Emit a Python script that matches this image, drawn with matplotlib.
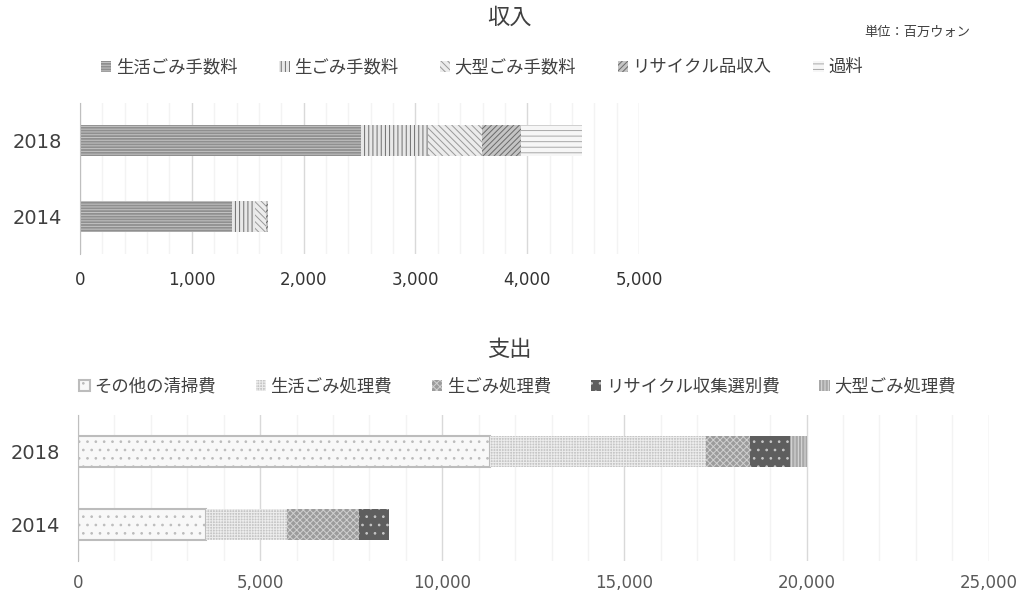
import matplotlib
matplotlib.use("Agg")
import matplotlib.pyplot as plt
from matplotlib.ticker import MultipleLocator, FuncFormatter

# numbers in DejaVu Sans, Japanese glyphs fall through to Noto Sans CJK JP
plt.rcParams['font.family'] = ['DejaVu Sans', 'Noto Sans CJK JP']
plt.rcParams['hatch.linewidth'] = 0.7

years = ['2014', '2018']

# 収入 (百万ウォン)
income_names = ['生活ごみ手数料', '生ごみ手数料', '大型ごみ手数料', 'リサイクル品収入', '過料']
fee_household = [1356, 2514]
fee_food = [207, 594]
fee_bulky = [100, 485]
recycle_income = [21, 355]
fines = [0, 546]

# 支出 (百万ウォン)
expense_names = ['その他の清掃費', '生活ごみ処理費', '生ごみ処理費', 'リサイクル収集選別費', '大型ごみ処理費']
cost_other = [3504, 11300]
cost_household = [2226, 5933]
cost_food = [1973, 1200]
cost_recycle = [826, 1100]
cost_bulky = [0, 480]

income_styles = [
    dict(color='#8f8f8f', edgecolor='#c4c4c4', hatch='------'),
    dict(color='#e8e8e8', edgecolor='#6e6e6e', hatch='||||'),
    dict(color='#ececec', edgecolor='#999999', hatch='\\\\\\\\\\'),
    dict(color='#c4c4c4', edgecolor='#6a6a6a', hatch='//////'),
    dict(color='#f6f6f6', edgecolor='#a8a8a8', hatch='---'),
]
expense_styles = [
    dict(color='#f8f8f8', edgecolor='#bcbcbc', hatch='..'),
    dict(color='#c6c6c6', edgecolor='#ececec', hatch='++++++'),
    dict(color='#9c9c9c', edgecolor='#d0d0d0', hatch='xxxxx'),
    dict(color='#5e5e5e', edgecolor='#c8c8c8', hatch='..'),
    dict(color='#a8a8a8', edgecolor='#dcdcdc', hatch='|||||'),
]

fig = plt.figure(figsize=(10.21, 5.95), dpi=100)
ax1 = fig.add_axes([0.0784, 0.573, 0.5475, 0.254])
ax2 = fig.add_axes([0.0764, 0.057, 0.892, 0.245])


def stacked(ax, series, names, styles, height):
    left = [0, 0]
    handles = []
    for vals, name, st in zip(series, names, styles):
        b = ax.barh([0, 1], vals, left=left, height=height, linewidth=0,
                    label=name, **st)
        handles.append(b)
        left = [l + v for l, v in zip(left, vals)]
    return handles


def style_axis(ax, xmax, major, minor, tick_color, pad):
    ax.set_xlim(0, xmax)
    ax.set_ylim(-0.5, 1.5)
    ax.set_yticks([0, 1])
    ax.set_yticklabels(years, fontsize=14, color='#404040')
    ax.xaxis.set_major_locator(MultipleLocator(major))
    ax.xaxis.set_minor_locator(MultipleLocator(minor))
    ax.xaxis.set_major_formatter(FuncFormatter(lambda v, p: f'{int(v):,}'))
    ax.tick_params(axis='x', which='both', length=0, labelsize=12,
                   labelcolor=tick_color, pad=pad)
    ax.tick_params(axis='y', length=0, pad=13)
    ax.grid(axis='x', which='major', color='#d9d9d9', linewidth=1)
    ax.grid(axis='x', which='minor', color='#f3f3f3', linewidth=1)
    ax.set_axisbelow(True)
    for s in ['top', 'right', 'bottom']:
        ax.spines[s].set_visible(False)
    ax.spines['left'].set_color('#bfbfbf')


h1 = stacked(ax1, [fee_household, fee_food, fee_bulky, recycle_income, fines],
             income_names, income_styles, 0.41)
style_axis(ax1, 5000, 1000, 200, '#333333', 12)

h2 = stacked(ax2, [cost_other, cost_household, cost_food, cost_recycle, cost_bulky],
             expense_names, expense_styles, 0.42)
# その他の清掃費 has a soft grey outline
for p in h2[0]:
    p.set_linewidth(1.5)
style_axis(ax2, 25000, 5000, 1000, '#595959', 9)

fig.text(0.4985, 0.97, '収入', ha='center', va='center', fontsize=16, color='#404040')
fig.text(0.95, 0.945, '単位：百万ウォン', ha='right', va='center', fontsize=9.5, color='#404040')
fig.text(0.4985, 0.412, '支出', ha='center', va='center', fontsize=16, color='#404040')

leg_kw = dict(ncol=5, frameon=False, fontsize=12.5, handlelength=0.6, handleheight=0.6,
              handletextpad=0.25, labelcolor='#404040', borderaxespad=0)
fig.legend(handles=h1, loc='center', bbox_to_anchor=(0.472, 0.887),
           columnspacing=2.4, **leg_kw)
fig.legend(handles=h2, loc='center', bbox_to_anchor=(0.507, 0.351),
           columnspacing=2.3, **leg_kw)

fig.savefig('out.png', dpi=100)
